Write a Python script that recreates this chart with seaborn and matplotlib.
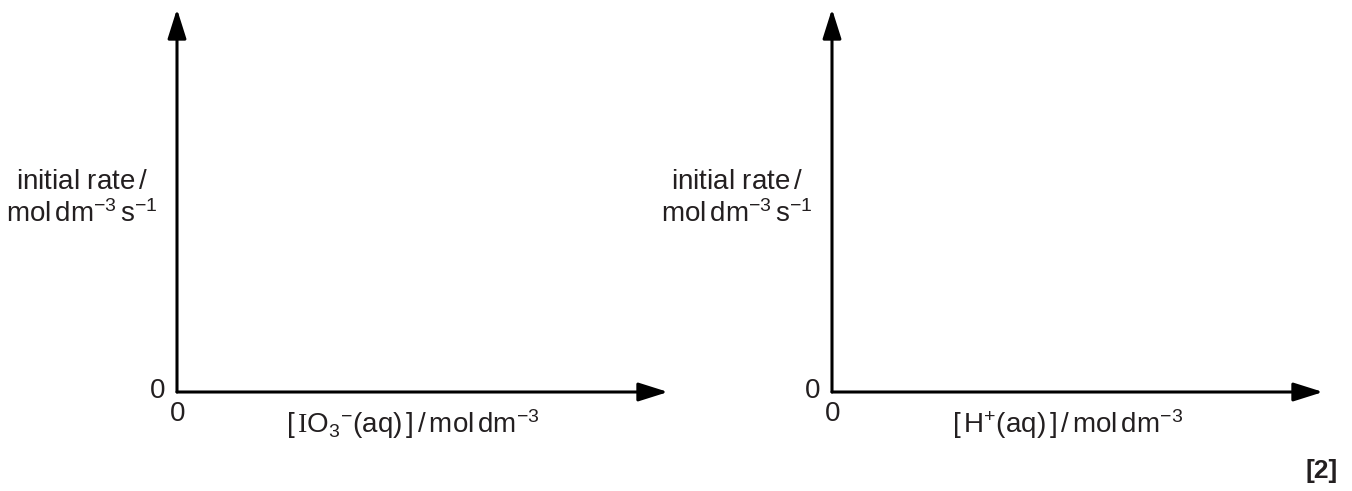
import seaborn as sns
import matplotlib.pyplot as plt

# Text for the two blank sketch graphs
y_label_top = [r'initial rate$\,$/', r'initial rate$\,$/']
y_label_units = [r'mol$\,$dm$^{-3}\,$s$^{-1}$', r'mol$\,$dm$^{-3}\,$s$^{-1}$']
x_labels = [r'[$\,\mathsf{I}$O$_{3}$$^{-}$(aq)$\,$]$\,$/$\,$mol$\,$dm$^{-3}$',
            r'[$\,$H$^{+}$(aq)$\,$]$\,$/$\,$mol$\,$dm$^{-3}$']
origin_labels = ['0', '0']
marks_label = '[2]'

sns.set_style('white')
plt.rcParams['font.family'] = ['Liberation Sans', 'DejaVu Sans']
plt.rcParams['mathtext.fontset'] = 'custom'
plt.rcParams['mathtext.rm'] = 'Liberation Sans'
plt.rcParams['mathtext.it'] = 'Liberation Sans:italic'
plt.rcParams['mathtext.bf'] = 'Liberation Sans:bold'
# serif "I" in IO3- (use the sf slot for it)
plt.rcParams['mathtext.sf'] = 'Liberation Serif'
plt.rcParams['mathtext.default'] = 'regular'

W, H = 1352, 491
fig = plt.figure(figsize=(W / 100, H / 100), dpi=100)
fig.patch.set_facecolor('white')

txt_col = '#231f20'
fs = 20

# origin of each graph in pixels (from top-left), arrow tips
origins = [(177, 392), (832, 392)]
x_len = 491
y_len = 383

for i, (ox, oy) in enumerate(origins):
    ax = fig.add_axes([ox / W, (H - oy) / H, x_len / W, y_len / H])
    ax.set_xlim(0, 1)
    ax.set_ylim(0, 1)
    ax.axis('off')

    arrow = dict(arrowstyle='-|>,head_length=0.95,head_width=0.3',
                 mutation_scale=19, lw=2.2, color='black',
                 shrinkA=0, shrinkB=0)
    ax.annotate('', xy=(1, 0), xytext=(0, 0), xycoords='axes fraction',
                arrowprops=arrow, annotation_clip=False)
    ax.annotate('', xy=(0, 1), xytext=(0, 0), xycoords='axes fraction',
                arrowprops=arrow, annotation_clip=False)

    kw = dict(xycoords='axes fraction', textcoords='offset pixels',
              color=txt_col, fontsize=fs, annotation_clip=False)
    # zeros at origin
    ax.annotate(origin_labels[i], xy=(0, 0), xytext=(-19, 1),
                ha='center', va='center', **kw)
    ax.annotate(origin_labels[i], xy=(0, 0), xytext=(1, -22),
                ha='center', va='center', **kw)
    # y label (two lines)
    ax.annotate(y_label_top[i], xy=(0, 0), xytext=(-95, 203),
                ha='center', va='baseline', **kw)
    ax.annotate(y_label_units[i], xy=(0, 0), xytext=(-95, 170),
                ha='center', va='baseline', **kw)
    # x label
    ax.annotate(x_labels[i], xy=(0, 0), xytext=(236, -41),
                ha='center', va='baseline', **kw)

fig.text(1338 / W, 1 - 471 / H, marks_label, ha='right', va='center',
         fontsize=19, fontweight='bold', color=txt_col)

fig.savefig('out.png', dpi=100)
